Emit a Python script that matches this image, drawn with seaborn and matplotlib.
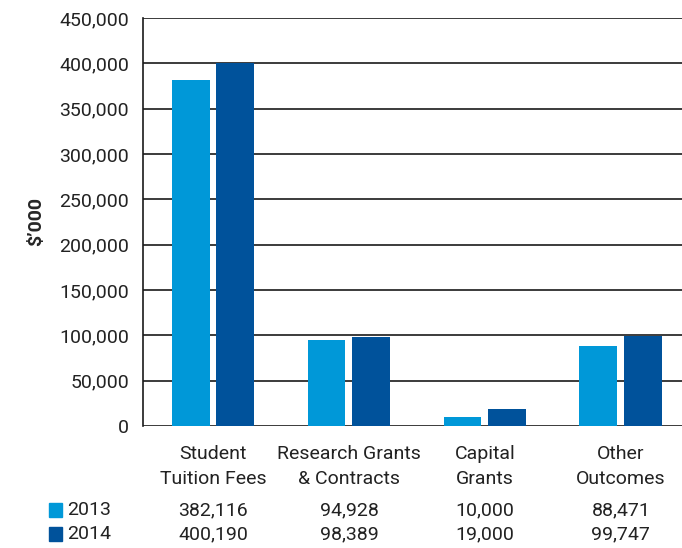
import pandas as pd
import seaborn as sns
import matplotlib.pyplot as plt
from matplotlib.ticker import FuncFormatter

# Data
categories = ['Student\nTuition Fees', 'Research Grants\n& Contracts', 'Capital\nGrants', 'Other\nOutcomes']
years = ['2013', '2014']
values_2013 = [382116, 94928, 10000, 88471]
values_2014 = [400190, 98389, 19000, 99747]
yticks = [0, 50000, 100000, 150000, 200000, 250000, 300000, 350000, 400000, 450000]
colors = {'2013': '#0098D8', '2014': '#00529B'}

df = pd.DataFrame({
    'category': categories * 2,
    'year': [years[0]] * 4 + [years[1]] * 4,
    'value': values_2013 + values_2014,
})

sns.set_style('white')
plt.rcParams['font.family'] = ['Roboto', 'DejaVu Sans']
fs = 14

fig = plt.figure(figsize=(6.82, 5.48), dpi=100)
ax = fig.add_axes([143 / 682, 1 - 426 / 548, (682 - 143) / 682, (426 - 18) / 548])

for y in yticks:
    ax.axhline(y, color='#1a1a1a', lw=1.2, zorder=0)

sns.barplot(data=df, x='category', y='value', hue='year', palette=colors,
            width=0.66, gap=0.155, saturation=1, linewidth=0, legend=False,
            ax=ax, zorder=2)

ax.set_ylim(0, 450000)
ax.set_xlim(-0.515, 3.45)
ax.set_yticks(yticks)
ax.yaxis.set_major_formatter(FuncFormatter(lambda v, p: f'{int(v):,}'))
ax.tick_params(axis='y', length=6, width=1.2, color='#1a1a1a', labelsize=fs, pad=4,
               labelcolor='#222222')
ax.set_xticks(range(len(categories)))
ax.set_xticklabels(categories, linespacing=1.45)
ax.tick_params(axis='x', length=0, labelsize=fs, pad=14, labelcolor='#222222')
ax.set_xlabel('')
ax.set_ylabel("$\u2019000", fontsize=fs, fontweight='bold', labelpad=10)
for s in ['top', 'right', 'bottom']:
    ax.spines[s].set_visible(False)
ax.spines['left'].set_color('#1a1a1a')
ax.spines['left'].set_linewidth(1.2)

# table of values under the chart
trans = ax.get_xaxis_transform()
for row, (yr, vals) in enumerate([(years[0], values_2013), (years[1], values_2014)]):
    ypix = 510 + row * 24
    yax = (426 - ypix) / 408
    fig.patches.append(plt.Rectangle((49 / 682, 1 - (ypix + 7) / 548), 13 / 682, 14 / 548,
                                     transform=fig.transFigure, color=colors[yr], figure=fig))
    fig.text(67 / 682, 1 - ypix / 548, yr, fontsize=fs, va='center', ha='left', color='#222222')
    for i, v in enumerate(vals):
        ax.text(i, yax, f'{v:,}', transform=trans, fontsize=fs, ha='center', va='center',
                clip_on=False, color='#222222')

fig.savefig('out.png', dpi=100)
